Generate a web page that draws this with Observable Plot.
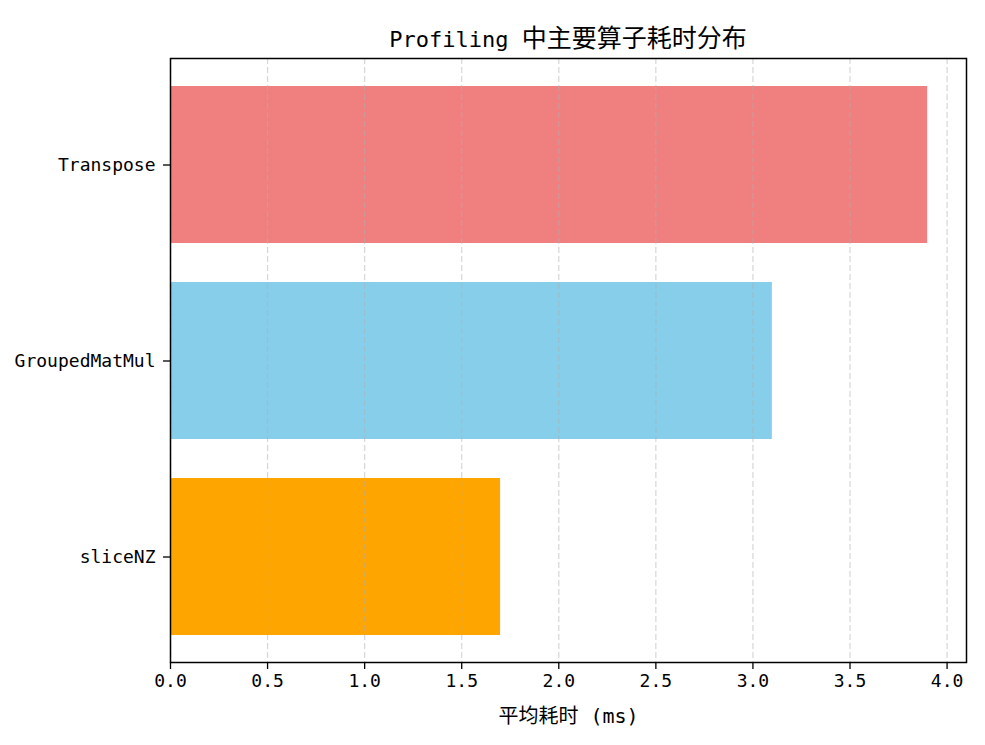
<!DOCTYPE html>
<html>
<head>
<meta charset="utf-8">
<script src="https://cdn.jsdelivr.net/npm/d3@7"></script>
<script src="https://cdn.jsdelivr.net/npm/@observablehq/plot@0.6"></script>
<style>
  body { margin: 0; background: #fff; }
  #wrap { position: relative; width: 985px; height: 745px; }
  #title { position: absolute; left: 170px; width: 796px; top: 18px; text-align: center;
    font-family: 'DejaVu Sans Mono', 'Noto Sans CJK SC', sans-serif; color: #000; white-space: nowrap; }
  #title .lat { font-size: 22px; }
  #title .cjk { font-size: 25px; font-family: 'Noto Sans CJK SC', sans-serif; }
</style>
</head>
<body>
<div id="wrap">
  <div id="title"><span class="lat">Profiling </span><span class="cjk">中主要算子耗时分布</span></div>
</div>
<script>
const categories = ["Transpose", "GroupedMatMul", "sliceNZ"];
const values = [3.9, 3.1, 1.7];
const colors = ["#F08080", "#87CEEB", "#FFA500"];
const xTicks = [0, 0.5, 1.0, 1.5, 2.0, 2.5, 3.0, 3.5, 4.0];
const xLabel = "平均耗时 (ms)";

const data = categories.map((c, i) => ({ op: c, ms: values[i], color: colors[i] }));

const chart = Plot.plot({
  width: 985,
  height: 745,
  marginTop: 58,
  marginBottom: 83,
  marginLeft: 170,
  marginRight: 19,
  style: { fontFamily: "'DejaVu Sans Mono', 'Noto Sans CJK SC', sans-serif", fontSize: "18px", color: "#000", background: "#fff" },
  x: { domain: [0, 4.1] },
  y: { domain: categories, paddingInner: 0.2, paddingOuter: 0.14 },
  marks: [
    Plot.barX(data, { x: "ms", y: "op", fill: "color" }),
    Plot.gridX(xTicks, { stroke: "#b0b0b0", strokeOpacity: 0.5, strokeDasharray: "6,3", strokeWidth: 1.2 }),
    Plot.axisX({ ticks: xTicks, tickFormat: d => d.toFixed(1), tickSize: 7, tickPadding: 5, strokeWidth: 1.3,
      label: null, fontSize: 18 }),
    Plot.axisX({ ticks: [], label: xLabel, labelAnchor: "center", labelArrow: "none", labelOffset: 60, fontSize: 20 }),
    Plot.axisY({ tickSize: 7, tickPadding: 8, strokeWidth: 1.3, label: null, fontSize: 18 }),
    Plot.frame({ stroke: "#000", strokeWidth: 1.5 })
  ]
});
document.getElementById("wrap").prepend(chart);
</script>
</body>
</html>
